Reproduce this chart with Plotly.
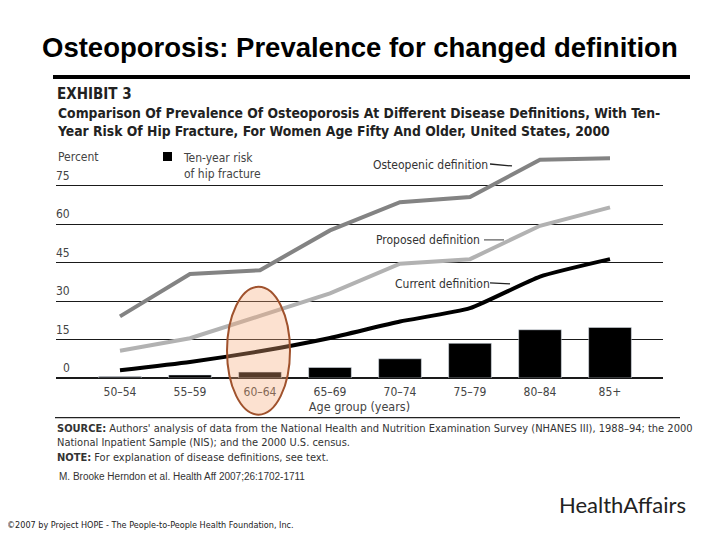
import plotly.graph_objects as go

# ---- data ----
age_groups = ["50–54", "55–59", "60–64", "65–69", "70–74", "75–79", "80–84", "85+"]
osteopenic = [24.0, 40.5, 42.0, 57.5, 68.5, 70.5, 85.0, 85.6]
proposed = [10.6, 15.5, 24.2, 33.0, 44.5, 46.3, 59.3, 66.5]
current = [3.0, 6.2, 10.4, 15.6, 22.0, 27.2, 39.5, 46.3]
hip_fracture_risk = [0.6, 1.2, 2.3, 4.1, 7.5, 13.5, 18.8, 19.7]
y_ticks = [0, 15, 30, 45, 60, 75]

W, H = 720, 540
OFF = 8  # page body margin offset
# plot area in page pixels: x 56..663, y 147..378.3
L = 56 - OFF
T = 147 - OFF
R = (W + OFF) - 663
B = (H + OFF) - 378.3
PW, PH = W - L - R, H - T - B

def fx(px):
    return (px - OFF - L) / PW

def fy(py):
    return (H - B - (py - OFF)) / PH

NARROW = "DejaVu Sans Condensed, Liberation Sans Narrow, Liberation Sans, Arial, sans-serif"
SANS = "Liberation Sans, Arial, sans-serif"

fig = go.Figure()
fig.add_trace(go.Bar(x=age_groups, y=hip_fracture_risk, marker_color="black",
                     width=0.61, name="Ten-year risk of hip fracture"))
fig.add_trace(go.Scatter(x=age_groups, y=osteopenic, mode="lines",
                         line=dict(color="#838383", width=4), name="Osteopenic definition"))
fig.add_trace(go.Scatter(x=age_groups, y=proposed, mode="lines",
                         line=dict(color="#b2b2b2", width=4), name="Proposed definition"))
fig.add_trace(go.Scatter(x=age_groups, y=current, mode="lines",
                         line=dict(color="black", width=4, shape="spline", smoothing=0.5),
                         name="Current definition"))

fig.update_layout(
    width=W, height=H, margin=dict(l=L, r=R, t=T, b=B),
    paper_bgcolor="white", plot_bgcolor="white", showlegend=False,
    font=dict(family=NARROW, color="#333"),
    xaxis=dict(range=[-0.914, 7.757], showgrid=False, showline=False, ticks="",
               ticklabelstandoff=5,
               tickfont=dict(size=12, color="#444", family=NARROW),
               title=dict(text="Age group (years)", font=dict(size=12.5, color="#444", family=NARROW),
                          standoff=4)),
    yaxis=dict(range=[0, 90], dtick=15, tick0=0, showgrid=True, gridcolor="#1a1a1a", gridwidth=1,
               showticklabels=False, zeroline=True, zerolinecolor="#1a1a1a", zerolinewidth=1.5),
)

ann = []
for v in y_ticks:
    ann.append(dict(x=fx(72), y=v, xref="paper", yref="y", text=str(v), showarrow=False,
                    xanchor="right", yanchor="bottom", yshift=1,
                    font=dict(size=12, color="#444", family=NARROW)))
ann.append(dict(x=fx(56), y=fy(157), xref="paper", yref="paper", text="Percent", showarrow=False,
                xanchor="left", yanchor="middle", font=dict(size=12, color="#444", family=NARROW)))
ann.append(dict(x=fx(181), y=fy(149), xref="paper", yref="paper", text="Ten-year risk<br>of hip fracture",
                showarrow=False, xanchor="left", yanchor="top", align="left",
                font=dict(size=12, color="#444", family=NARROW)))
for txt, px, py in [("Osteopenic definition", 371, 165), ("Proposed definition", 374, 240),
                    ("Current definition", 393, 284)]:
    ann.append(dict(x=fx(px), y=fy(py), xref="paper", yref="paper", text=txt, showarrow=False,
                    xanchor="left", yanchor="middle", font=dict(size=12, color="#333", family=NARROW)))
ann.append(dict(x=fx(360), y=fy(47), xref="paper", yref="paper",
                text="<b>Osteoporosis: Prevalence for changed definition</b>",
                showarrow=False, xanchor="center", yanchor="middle",
                font=dict(size=27.5, color="black", family=SANS)))
ann.append(dict(x=fx(55), y=fy(94), xref="paper", yref="paper", text="<b>EXHIBIT 3</b>", showarrow=False,
                xanchor="left", yanchor="middle", font=dict(size=15, color="#222", family=NARROW)))
ann.append(dict(x=fx(55), y=fy(122), xref="paper", yref="paper",
                text="<b>Comparison Of Prevalence Of Osteoporosis At Different Disease Definitions, With Ten-<br>"
                     "Year Risk Of Hip Fracture, For Women Age Fifty And Older, United States, 2000</b>",
                showarrow=False, xanchor="left", yanchor="middle", align="left",
                font=dict(size=13.8, color="#222", family=NARROW)))
ann.append(dict(x=fx(55), y=fy(443), xref="paper", yref="paper",
                text="<b>SOURCE:</b> Authors' analysis of data from the National Health and Nutrition Examination Survey (NHANES III), 1988–94; the 2000<br>"
                     "National Inpatient Sample (NIS); and the 2000 U.S. census.<br>"
                     "<b>NOTE:</b> For explanation of disease definitions, see text.",
                showarrow=False, xanchor="left", yanchor="middle", align="left",
                font=dict(size=11, color="#333", family=NARROW)))
ann.append(dict(x=fx(57), y=fy(477), xref="paper", yref="paper",
                text="M. Brooke Herndon et al. Health Aff 2007;26:1702-1711", showarrow=False,
                xanchor="left", yanchor="middle", font=dict(size=10, color="#333", family=SANS)))
ann.append(dict(x=fx(688), y=fy(505), xref="paper", yref="paper", text="HealthAffairs", showarrow=False,
                xanchor="right", yanchor="middle", font=dict(size=22, color="#222", family="Lato, sans-serif")))
ann.append(dict(x=fx(5), y=fy(525), xref="paper", yref="paper",
                text="©2007 by Project HOPE - The People-to-People Health Foundation, Inc.", showarrow=False,
                xanchor="left", yanchor="middle", font=dict(size=9, color="#222", family=NARROW)))
fig.update_layout(annotations=ann)

shapes = [
    dict(type="line", xref="paper", yref="paper", x0=fx(53), x1=fx(690), y0=fy(77), y1=fy(77),
         line=dict(color="black", width=4)),
    dict(type="line", xref="paper", yref="paper", x0=fx(55), x1=fx(680), y0=fy(418), y1=fy(418),
         line=dict(color="#222", width=1.2)),
    dict(type="rect", xref="paper", yref="paper", x0=fx(163), x1=fx(172), y0=fy(161), y1=fy(152),
         fillcolor="black", line=dict(width=0)),
    dict(type="line", xref="paper", yref="paper", x0=fx(490), x1=fx(512), y0=fy(164), y1=fy(166),
         line=dict(color="#222", width=1.3)),
    dict(type="line", xref="paper", yref="paper", x0=fx(484), x1=fx(504), y0=fy(240), y1=fy(240),
         line=dict(color="#666", width=1.3)),
    dict(type="line", xref="paper", yref="paper", x0=fx(490), x1=fx(510), y0=fy(283), y1=fy(284),
         line=dict(color="#222", width=1.3)),
    dict(type="circle", xref="paper", yref="paper", x0=fx(227), x1=fx(290), y0=fy(415), y1=fy(287),
         fillcolor="rgba(245,170,120,0.35)", line=dict(color="#a0522d", width=2), layer="above"),
]
fig.update_layout(shapes=shapes)

fig.write_html("out.html")
